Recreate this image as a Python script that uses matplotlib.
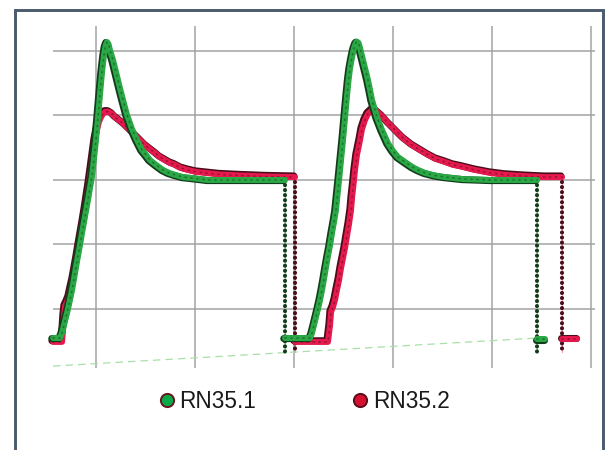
import matplotlib
matplotlib.use("Agg")
import matplotlib.pyplot as plt
from matplotlib.lines import Line2D
from matplotlib.patches import Rectangle
import matplotlib.patheffects as pe

# ---------------- data ----------------
series_names = ["RN35.1", "RN35.2"]

# RN35.1 (green) - first pulse
g1_x = [56.6, 63.6, 65.7, 67.7, 69.7, 71.7, 73.7, 75.8, 77.8, 79.8, 81.8, 83.8, 85.9,
        87.9, 89.9, 91.9, 93.9, 96.0, 98.0, 100.0, 102.0, 104.0, 106.1, 108.1, 109.6,
        111.1, 112.6, 114.1, 117.2, 120.2, 122.2, 124.2, 127.3, 131.3, 136.4, 141.4,
        146.5, 150.5, 154.5, 160.6, 167.7, 173.7, 179.8, 187.9, 197.0, 213.1, 290.9]
g1_y = [11.0, 11.0, 12.6, 15.0, 17.5, 20.0, 22.8, 25.9, 29.3, 33.0, 36.4, 39.8, 43.6,
        47.0, 50.4, 53.8, 57.5, 61.2, 66.8, 72.4, 79.2, 86.4, 93.5, 98.8, 101.6,
        102.8, 102.2, 100.3, 97.2, 93.5, 91.0, 88.5, 84.8, 80.2, 75.8, 72.4,
        69.3, 67.8, 66.2, 64.7, 63.1, 62.2, 61.6, 60.9, 60.6, 60.0, 60.0]
# RN35.1 (green) - second pulse
g2_x = [290.9, 316.2, 318.2, 320.2, 322.2, 324.2, 326.3, 328.3, 330.3, 332.3, 334.3,
        336.4, 338.4, 340.4, 342.4, 343.4, 345.5, 347.5, 349.5, 351.5, 353.5, 355.1,
        356.6, 358.6, 360.6, 362.6, 363.6, 365.2, 366.7, 369.7, 372.7, 374.7, 376.8,
        378.8, 381.8, 383.8, 388.9, 394.9, 400.0, 405.1, 412.1, 419.2, 425.3, 432.3,
        442.4, 452.5, 470.7, 498.0, 545.5]
g2_y = [11.0, 11.0, 12.6, 15.0, 17.5, 20.0, 22.8, 25.9, 29.3, 33.0, 36.4,
        39.8, 43.6, 47.0, 50.7, 53.8, 60.0, 66.2, 72.4, 79.2, 86.0, 91.0,
        94.7, 98.1, 100.9, 102.6, 102.9, 102.5, 100.9, 97.2, 93.5, 91.0, 87.9,
        84.8, 81.7, 79.5, 75.5, 71.4, 69.0, 67.1, 65.6, 64.1, 63.1, 62.2,
        61.4, 60.9, 60.3, 60.0, 60.0]
g3_x = [545.5, 553.5]
g3_y = [10.7, 10.7]
g_drop_x = [290.9, 545.5]
g_drop_top = [60.0, 60.0]
g_drop_bottom = [6.7, 6.7]

# RN35.2 (red) - first pulse
r1_x = [56.6, 65.7, 66.7, 67.7, 68.7, 70.7, 72.7, 74.7, 76.8, 78.8, 80.8, 82.8, 84.8,
        86.9, 88.9, 90.9, 92.9, 94.9, 97.0, 99.0, 101.0, 103.0, 105.1, 107.1, 109.1,
        111.1, 113.1, 116.2, 119.2, 124.2, 129.3, 134.3, 139.4, 144.4, 149.5, 154.5,
        159.6, 164.6, 169.7, 174.7, 179.8, 185.9, 192.9, 201.0, 210.1, 225.3, 245.5,
        270.7, 301.0]
r1_y = [9.8, 9.8, 13.5, 18.1, 20.9, 22.2, 23.7, 26.5, 29.3, 32.7, 36.1, 39.8, 43.3,
        47.0, 50.7, 54.7, 58.7, 63.1, 67.8, 72.4, 75.5, 78.0, 79.5, 80.5, 81.1,
        81.2, 81.1, 80.5, 79.5, 78.3, 77.0, 75.5, 73.9, 72.4, 70.8, 69.6,
        68.4, 67.1, 66.2, 65.3, 64.7, 63.7, 63.1, 62.5, 62.2, 61.7, 61.4,
        61.1, 60.9]
# RN35.2 (red) - second pulse
r2_x = [301.0, 334.3, 336.4, 337.4, 339.4, 341.4, 343.4, 345.5, 347.5, 349.5, 351.5,
        353.5, 355.6, 357.6, 358.6, 360.6, 361.6, 363.6, 366.7, 368.7, 371.7, 374.7,
        378.8, 382.8, 388.9, 394.9, 402.0, 410.1, 419.2, 427.3, 435.4, 443.4, 452.5,
        460.6, 469.7, 482.8, 498.0, 513.1, 533.3, 553.5, 570.7]
r2_y = [9.8, 9.8, 15.0, 19.1, 20.6, 22.8, 25.9, 29.0, 32.7, 35.8, 38.9,
        42.6, 46.4, 50.7, 54.4, 60.0, 63.1, 67.8, 72.4, 75.8, 78.6, 80.5,
        81.7, 81.4, 79.8, 77.7, 75.5, 73.0, 70.8, 69.3, 67.8, 66.5, 65.6,
        64.7, 64.1, 63.1, 62.2, 61.6, 61.2, 60.9, 60.9]
r3_x = [570.7, 585.9]
r3_y = [10.7, 10.7]
r_drop_x = [301.0, 570.7]
r_drop_top = [60.9, 60.9]
r_drop_bottom = [6.7, 6.7]

# dashed trend line
trend_x = [56.6, 545.5]
trend_y = [2.3, 11.0]

x_grid = [100, 200, 300, 400, 500, 600]
y_grid = [20, 40, 60, 80, 100]

# ---------------- styling ----------------
GREEN = "#2aa845"
GREEN_DARK = "#123d1c"
RED = "#e5194d"
RED_DARK = "#4a0d1a"
GRID = "#a3a3a3"

plt.rcParams["font.family"] = ["Liberation Sans", "DejaVu Sans"]

fig = plt.figure(figsize=(6.05, 4.5), dpi=100)
ax = fig.add_axes([0, 0, 1, 1])
ax.set_xlim(3.03, 614.1)
ax.set_ylim(-23.72, 115.81)
ax.axis("off")

# grid
ax.hlines(y_grid, 56.6, 604.0, colors=GRID, lw=1.1, zorder=1)
ax.vlines(x_grid, 1.7, 107.8, colors=GRID, lw=1.1, zorder=1)

# trend line
ax.plot(trend_x, trend_y, color="#a8e0a8", lw=0.9, ls=(0, (6, 4)), zorder=2)


def band(xs, ys, color, dark, offset, z):
    ax.plot(xs, ys, color=color, lw=4.3, solid_capstyle="round", solid_joinstyle="round",
            zorder=z,
            path_effects=[pe.Stroke(linewidth=5.1, foreground=dark, offset=offset),
                          pe.Normal()])
    ax.plot(xs, ys, color=dark, lw=1.2, ls=(0, (0.6, 3.0)), alpha=0.5, zorder=z + 0.1,
            dash_capstyle="round")


def drops(xs, tops, bottoms, light, dark, z):
    for x, t, b in zip(xs, tops, bottoms):
        ax.plot([x, x], [t, b], color=light, lw=0.8, zorder=z)
        ax.plot([x, x], [t, b], color=dark, lw=3.0, ls=(0, (0.01, 1.2)),
                dash_capstyle="round", zorder=z + 0.1)


drops(r_drop_x, r_drop_top, r_drop_bottom, "#f3a0b4", RED_DARK, 3)
drops(g_drop_x, g_drop_top, g_drop_bottom, "#9fdca9", GREEN_DARK, 3)

for xs, ys in [(r1_x, r1_y), (r2_x, r2_y), (r3_x, r3_y)]:
    band(xs, ys, RED, RED_DARK, (-0.8, 0.8), 4)
for xs, ys in [(g1_x, g1_y), (g2_x, g2_y), (g3_x, g3_y)]:
    band(xs, ys, GREEN, GREEN_DARK, (-0.9, -0.4), 5)

# legend
handles = [
    Line2D([], [], ls="none", marker="o", markersize=9.5, markerfacecolor="#0aaa48",
           markeredgecolor="#6b1520", markeredgewidth=1.4, label=series_names[0]),
    Line2D([], [], ls="none", marker="o", markersize=9.5, markerfacecolor="#d81030",
           markeredgecolor="#5a0f1a", markeredgewidth=1.4, label=series_names[1]),
]
leg = fig.legend(handles=handles, loc="center", bbox_to_anchor=(0.500, 0.108), ncol=2,
                 frameon=False, fontsize=16.3, handlelength=1.0, handletextpad=0.05,
                 columnspacing=4.1, borderpad=0.0)
for t in leg.get_texts():
    t.set_color("#1a1a1a")

# outer frame
fig.add_artist(Rectangle((0.0243, -0.05), 0.9724, 1.0284, transform=fig.transFigure,
                         fill=False, edgecolor="#4b5a6c", lw=2.1, zorder=10))

fig.savefig("out.png", dpi=100)
